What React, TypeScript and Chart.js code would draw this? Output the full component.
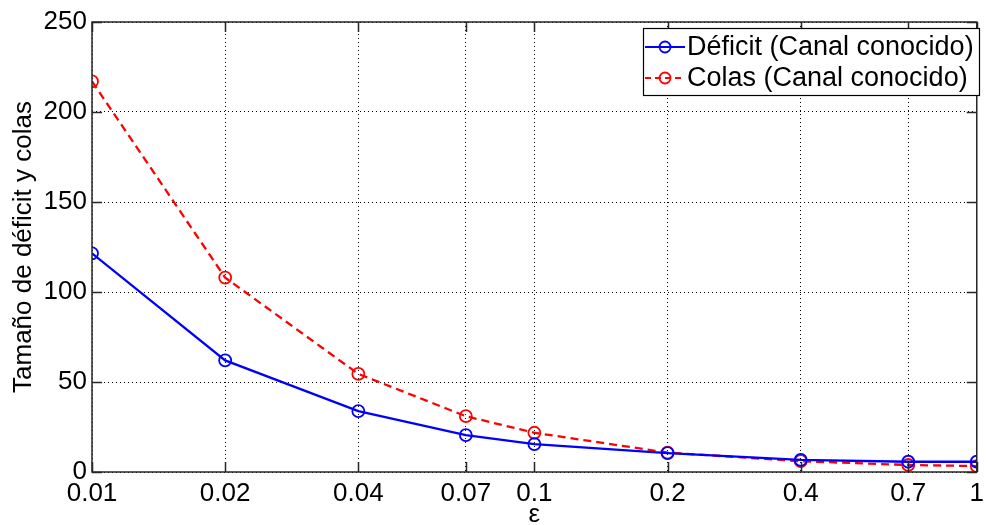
import React, { useEffect, useRef } from "react";
import { Chart, registerables } from "chart.js";

Chart.register(...registerables);

// ε values on the log-scaled x axis
const epsilonValues = [0.01, 0.02, 0.04, 0.07, 0.1, 0.2, 0.4, 0.7, 1];
const xTickLabels = ["0.01", "0.02", "0.04", "0.07", "0.1", "0.2", "0.4", "0.7", "1"];
// Deficit size and queue size for each ε
const deficitValues = [121.5, 62, 33.8, 20.5, 15.5, 10.5, 6.7, 5.7, 5.7];
const colasValues = [217, 108, 54.5, 31, 21.8, 10.8, 6, 3.9, 3.3];
const yTickValues = [0, 50, 100, 150, 200, 250];
const seriesNames = ["Déficit (Canal conocido)", "Colas (Canal conocido)"];
const seriesColors = ["#0000ff", "#ff0000"];
const seriesDash = [[], [8, 5]];

const FONT = "'Liberation Sans', Arial, Helvetica, sans-serif";
const FONT_SIZE = 26;
const LEGEND_FONT_SIZE = 27;
const AXIS_COLOR = "#262626";

// Axes box, inward tick marks on all four sides, and the boxed legend
const framePlugin = {
  id: "frame",
  afterDraw(chart: any) {
    const { ctx, chartArea: a, scales } = chart;
    const xs = scales.x;
    const ys = scales.y;
    const tickLen = 10;
    ctx.save();
    ctx.strokeStyle = AXIS_COLOR;
    ctx.lineWidth = 1.5;
    ctx.beginPath();
    for (const v of epsilonValues) {
      const px = Math.round(xs.getPixelForValue(v)) + 0.5;
      ctx.moveTo(px, a.bottom);
      ctx.lineTo(px, a.bottom - tickLen);
      ctx.moveTo(px, a.top);
      ctx.lineTo(px, a.top + tickLen);
    }
    for (const v of yTickValues) {
      const py = Math.round(ys.getPixelForValue(v)) + 0.5;
      ctx.moveTo(a.left, py);
      ctx.lineTo(a.left + tickLen, py);
      ctx.moveTo(a.right, py);
      ctx.lineTo(a.right - tickLen, py);
    }
    ctx.stroke();
    ctx.strokeRect(a.left, a.top, a.right - a.left, a.bottom - a.top);

    // legend
    const box = { left: 643, top: 28, right: 979, bottom: 95 };
    ctx.fillStyle = "#ffffff";
    ctx.fillRect(box.left, box.top, box.right - box.left, box.bottom - box.top);
    ctx.lineWidth = 1.2;
    ctx.strokeStyle = "#000000";
    ctx.strokeRect(box.left + 0.5, box.top + 0.5, box.right - box.left, box.bottom - box.top);
    const rowY = [47, 78];
    ctx.font = `${LEGEND_FONT_SIZE}px ${FONT}`;
    ctx.textBaseline = "middle";
    ctx.textAlign = "left";
    seriesNames.forEach((name, i) => {
      const y = rowY[i];
      ctx.strokeStyle = seriesColors[i];
      ctx.lineWidth = 2.2;
      ctx.setLineDash(seriesDash[i].length ? [6, 4] : []);
      ctx.beginPath();
      ctx.moveTo(645, y);
      ctx.lineTo(685, y);
      ctx.stroke();
      ctx.setLineDash([]);
      ctx.lineWidth = 1.8;
      ctx.beginPath();
      ctx.arc(665, y, 5.5, 0, Math.PI * 2);
      ctx.stroke();
      ctx.fillStyle = "#000000";
      ctx.fillText(name, 687, y + 1);
    });
    ctx.restore();
  },
};

export default function App() {
  const canvasRef = useRef<HTMLCanvasElement | null>(null);

  useEffect(() => {
    if (!canvasRef.current) return;
    const makePoints = (vals: number[]) => epsilonValues.map((x, i) => ({ x, y: vals[i] }));
    const chart = new Chart(canvasRef.current, {
      type: "line",
      data: {
        datasets: [deficitValues, colasValues].map((vals, i) => ({
          label: seriesNames[i],
          data: makePoints(vals),
          borderColor: seriesColors[i],
          backgroundColor: "rgba(0,0,0,0)",
          borderWidth: 2.3,
          borderDash: seriesDash[i],
          pointRadius: 6,
          pointBorderWidth: 1.8,
          pointBorderColor: seriesColors[i],
          pointBackgroundColor: "rgba(0,0,0,0)",
          tension: 0,
          fill: false,
        })),
      },
      options: {
        responsive: false,
        animation: false,
        layout: { padding: { top: 22, right: 10, left: 0, bottom: 0 } },
        plugins: {
          legend: { display: false },
          tooltip: { enabled: false },
        },
        scales: {
          x: {
            type: "logarithmic",
            min: 0.01,
            max: 1,
            afterBuildTicks: (scale: any) => {
              scale.ticks = epsilonValues.map((v) => ({ value: v }));
            },
            afterFit: (scale: any) => {
              scale.height = 53;
            },
            ticks: {
              autoSkip: false,
              maxRotation: 0,
              padding: 6,
              color: "#000000",
              font: { family: FONT, size: FONT_SIZE },
              callback: (_v: any, idx: number) => xTickLabels[idx],
            },
            grid: {
              color: "#000000",
              lineWidth: 1,
              drawTicks: false,
            },
            border: { display: false, dash: [1, 3] },
            title: {
              display: true,
              text: "ε",
              color: "#000000",
              font: { family: FONT, size: FONT_SIZE },
              padding: { top: 0, bottom: -5 },
            },
          },
          y: {
            type: "linear",
            min: 0,
            max: 250,
            afterBuildTicks: (scale: any) => {
              scale.ticks = yTickValues.map((v) => ({ value: v }));
            },
            afterFit: (scale: any) => {
              scale.width = 92;
            },
            ticks: {
              padding: 5,
              color: "#000000",
              font: { family: FONT, size: FONT_SIZE },
              callback: (v: any) => String(v),
            },
            grid: {
              color: "#000000",
              lineWidth: 1,
              drawTicks: false,
            },
            border: { display: false, dash: [1, 3] },
            title: {
              display: true,
              text: "Tamaño de déficit y colas",
              color: "#000000",
              font: { family: FONT, size: FONT_SIZE },
              padding: { top: 8, bottom: 0 },
            },
          },
        },
      },
      plugins: [framePlugin],
    });
    return () => chart.destroy();
  }, []);

  return (
    <div style={{ position: "fixed", left: 0, top: 0, width: 990, height: 525, background: "#ffffff" }}>
      <canvas ref={canvasRef} width={990} height={525} style={{ display: "block" }} />
    </div>
  );
}
